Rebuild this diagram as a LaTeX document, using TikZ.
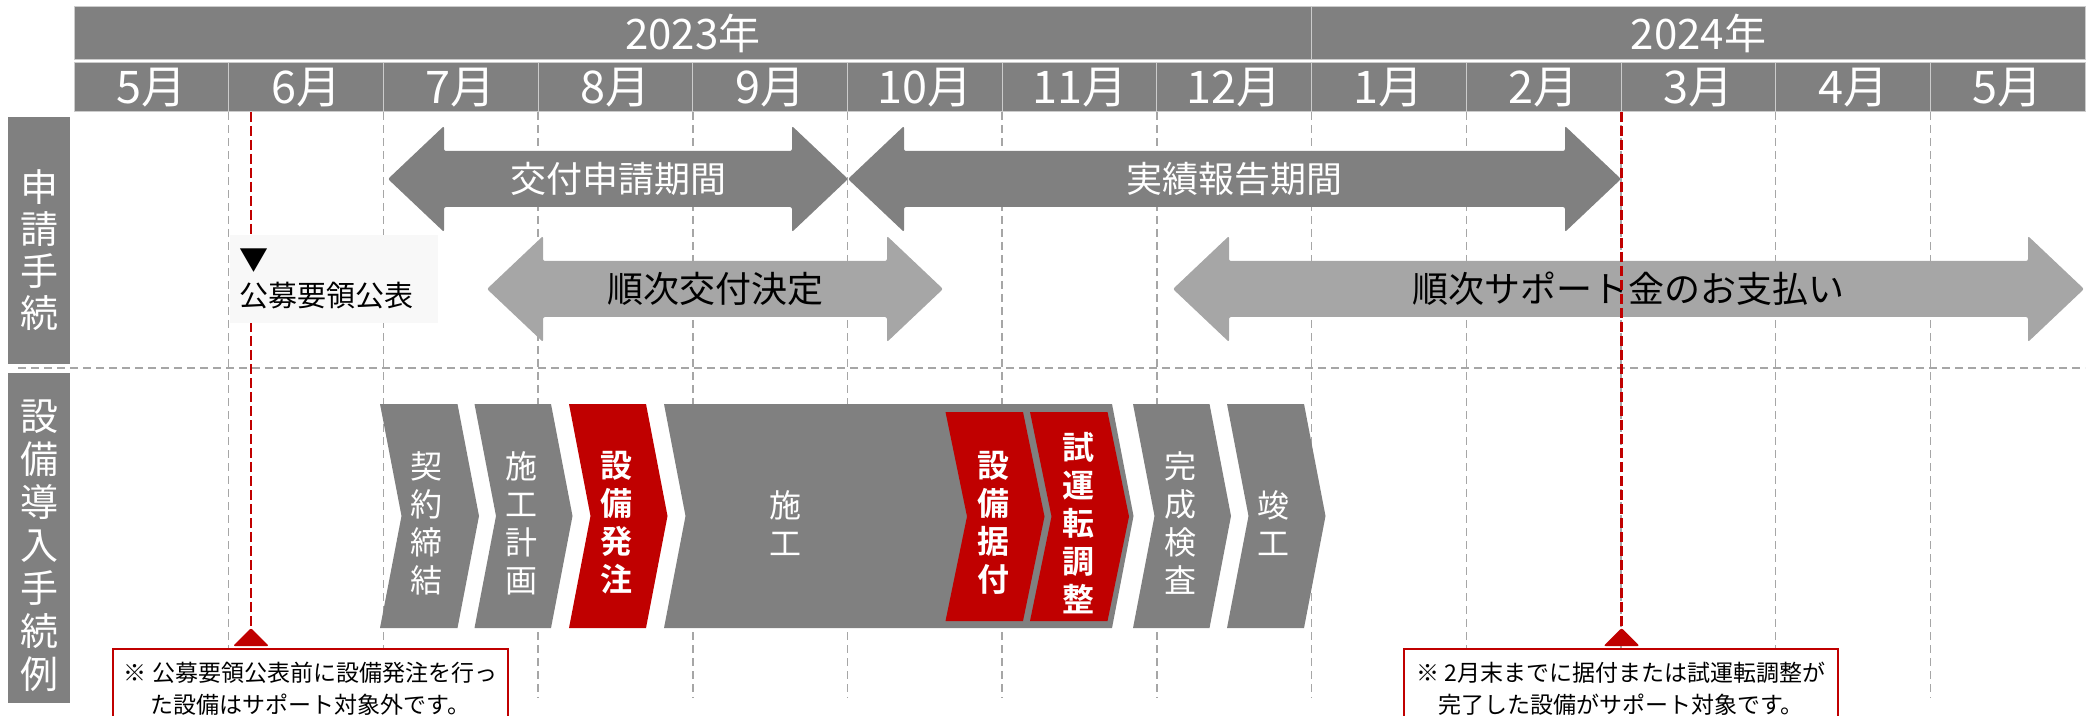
\documentclass[tikz,border=0pt]{standalone}
\usepackage{fontspec}
\setmainfont{Noto Sans CJK JP}[BoldFont={Noto Sans CJK JP Bold}]
\definecolor{Gray}{HTML}{808080}
\definecolor{LightGray}{HTML}{A6A6A6}
\definecolor{Red}{HTML}{C00000}
\definecolor{Paper}{HTML}{F8F8F8}
\tikzset{yearcell/.style ={
        fill=Gray,
        draw=Gray!40,
        line width=0.5pt,
        text=white,
        inner sep=0pt,
        minimum height=26.5pt,
        font=\fontsize{21pt}{25pt}\selectfont
    },
    monthcell/.style ={
        yearcell,
        minimum width=77.35pt,
        minimum height=24.25pt,
        font=\fontsize{22.5pt}{26pt}\selectfont
    },
    sidebox/.style ={
        fill=Gray,
        inner sep=0pt,
        minimum width=31pt
    },
    sidetxt/.style ={
        text=white,
        align=center,
        inner sep=0pt,
        font=\fontsize{19pt}{21pt}\selectfont
    },
    monthline/.style ={
        draw=LightGray,
        line width=0.75pt,
        dash pattern=on 4pt off 2.5pt
    },
    darkarr/.style ={
        fill=Gray,
        rounded corners=1pt
    },
    lightarr/.style ={
        fill=LightGray,
        rounded corners=1pt
    },
    periodtxt/.style ={
        inner sep=0pt,
        font=\fontsize{18pt}{22pt}\selectfont
    },
    deadline/.style ={
        draw=Red,
        line width=1.25pt,
        dash pattern=on 5pt off 2pt
    },
    noticebox/.style ={
        fill=Paper,
        minimum width=103.75pt,
        minimum height=44pt,
        inner xsep=4.5pt,
        text width=94.75pt,
        align=left,
        font=\fontsize{14.5pt}{18pt}\selectfont
    },
    graystep/.style ={
        fill=Gray
    },
    redstep/.style ={
        fill=Red
    },
    steptxt/.style ={
        text=white,
        align=center,
        inner sep=0pt,
        font=\fontsize{16pt}{19pt}\selectfont
    },
    boldtxt/.style ={
        steptxt,
        font=\fontsize{16pt}{19pt}\selectfont\bfseries
    },
    notebox/.style ={
        draw=Red,
        fill=white,
        line width=0.75pt,
        anchor=north,
        minimum height=40pt,
        align=center,
        font=\fontsize{11.5pt}{16pt}\selectfont
    },
    marker/.style ={
        fill=Red,
        rounded corners=1pt
    }}
\begin{document}
\begin{tikzpicture}[x=0.5pt, y=-0.5pt]
    \useasboundingbox (0,0) rectangle (2096,716);

    % month grid
    \foreach \k in {1,...,12}
        \draw[monthline] ({74+\k*154.7},112) -- ({74+\k*154.7},698);
    \draw[monthline] (18,368) -- (2085,368);

    % calendar header
    \node (y2023)[yearcell, minimum width=618.8pt] at (692.8,33.5) {2023年};
    \node (y2024)[yearcell, minimum width=386.95pt] at (1698.5,33.5) {2024年};
    \foreach \k/\lab in {1/5月,2/6月,3/7月,4/8月,5/9月,6/10月,7/11月,8/12月,9/1月,10/2月,11/3月,12/4月,13/5月}
        \node (m\k)[monthcell] at ({74+(\k-0.5)*154.7},87.25) {\lab};

    % side labels
    \node (procbox)[sidebox, minimum height=123.5pt] at (39,240.5) {};
    \node (proctxt)[sidetxt] at (39,250) {申\\請\\手\\続};
    \node (equipbox)[sidebox, minimum height=165pt] at (39,538) {};
    \node (equiptxt)[sidetxt, font=\fontsize{19pt}{21.5pt}\selectfont] at (39,546) {設\\備\\導\\入\\手\\続\\例};

    % periods
    \foreach \nm/\xa/\xb/\yc/\sty/\tc/\lab in {
        apply/388/848/179/darkarr/white/交付申請期間,
        report/848/1621/179/darkarr/white/実績報告期間,
        decide/487/943/289/lightarr/black/順次交付決定,
        pay/1173/2084/289/lightarr/black/順次サポート金のお支払い}
    {
        \path[\sty] (\xa,\yc) -- (\xa+56,\yc-53) -- (\xa+56,\yc-28) -- (\xb-56,\yc-28)
            -- (\xb-56,\yc-53) -- (\xb,\yc) -- (\xb-56,\yc+53) -- (\xb-56,\yc+28)
            -- (\xa+56,\yc+28) -- (\xa+56,\yc+53) -- cycle;
        \node (\nm)[periodtxt, text=\tc] at ({(\xa+\xb)/2},\yc) {\lab};
    }

    % deadlines
    \coordinate (pubtop) at (251,112);
    \coordinate (pubend) at (251,628);
    \coordinate (febtop) at (1621.5,112);
    \coordinate (febend) at (1621.5,628);
    \draw[deadline] (pubtop) -- (pubend);
    \draw[deadline] (febtop) -- (febend);

    \node (notice)[noticebox] at (333.75,279) {▼\\公募要領公表};

    % steps
    \foreach \nm/\xl/\xr/\ya/\yb/\sty/\xt/\ts/\lab in {
        contract/380/457.5/404/628/graystep/426/steptxt/契\\約\\締\\結,
        plan/474.5/551/404/628/graystep/521/steptxt/施\\工\\計\\画,
        order/569/646/404/628/redstep/616/boldtxt/設\\備\\発\\注,
        build/664/1112/404/628/graystep/785/steptxt/施\\工,
        install/945.5/1023/412/621/redstep/993/boldtxt/設\\備\\据\\付,
        trial/1030/1107.5/412/621/redstep/1078/boldtxt/試\\運\\転\\調\\整,
        inspect/1133/1209.5/404/628/graystep/1180/steptxt/完\\成\\検\\査,
        finish/1227/1304/404/628/graystep/1273/steptxt/竣\\工}
    {
        \fill[\sty] (\xl,\ya) -- (\xr,\ya) -- (\xr+21.5,{(\ya+\yb)/2}) -- (\xr,\yb)
            -- (\xl,\yb) -- (\xl+21.5,{(\ya+\yb)/2}) -- cycle;
        \node (\nm)[\ts] at (\xt,523) {\lab};
    }

    % notes
    \fill[marker] (233,646) -- (pubend) -- (269,646) -- cycle;
    \node (note1)[notebox, minimum width=197.5pt] at (310.5,648)
        {※ 公募要領公表前に設備発注を行っ\\た設備はサポート対象外です。};
    \fill[marker] (1603.5,646) -- (febend) -- (1639.5,646) -- cycle;
    \node (note2)[notebox, minimum width=217pt] at (1621,648)
        {※ 2月末までに据付または試運転調整が\\完了した設備がサポート対象です。};
\end{tikzpicture}
\end{document}
